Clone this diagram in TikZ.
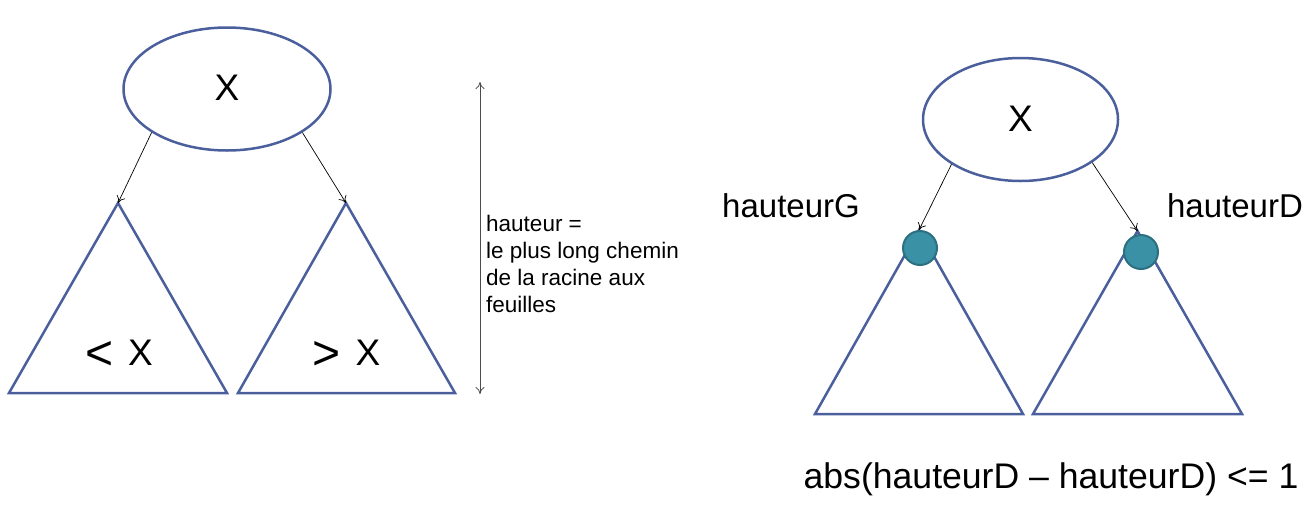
\documentclass[tikz,border=0pt]{standalone}
\usepackage{fontspec}
\setmainfont{Liberation Sans}
\usetikzlibrary{shapes.geometric,arrows.meta}
\definecolor{shapeblue}{HTML}{4A5F9C}
\definecolor{tealfill}{HTML}{3A91A5}
\definecolor{tealline}{HTML}{2B6F80}
\newcommand{\bigrel}[1]{\raisebox{-4pt}{\scalebox{1.3}{#1}}}
\tikzset{
  rootnode/.style={ellipse, draw=shapeblue, line width=2.5pt, fill=white, inner sep=0pt, font=\fontsize{37}{44}\selectfont},
  trishape/.style={draw=shapeblue, line width=2.5pt, line join=miter},
  subnode/.style={circle, draw=tealline, line width=2pt, fill=tealfill, minimum size=34pt, inner sep=0pt},
  link/.style={-{To[length=7pt,width=9pt]}, line width=0.7pt, black},
  dimline/.style={{To[length=7pt,width=9pt]}-{To[length=7pt,width=9pt]}, line width=0.8pt, black!70},
  bigtext/.style={font=\fontsize{37}{44}\selectfont, inner sep=0pt},
  labeltext/.style={font=\fontsize{33}{40}\selectfont, inner sep=0pt},
  smalltext/.style={font=\fontsize{22.5}{26.7}\selectfont, align=left, inner sep=0pt}
}
\begin{document}
\begin{tikzpicture}[x=1pt,y=-1pt]
\useasboundingbox (0,0) rectangle (1313,504);
% ---------- left tree ----------
\coordinate (LA) at (118,203);
\coordinate (LB) at (9,393);
\coordinate (LC) at (227,393);
\coordinate (RA) at (346,203);
\coordinate (RB) at (238,393);
\coordinate (RC) at (455,393);
\draw[trishape] (LA) -- (LB) -- (LC) -- cycle;
\draw[trishape] (RA) -- (RB) -- (RC) -- cycle;
\node[rootnode, minimum width=207pt, minimum height=123pt] (root1) at (227,89) {\raisebox{2pt}{X}};
\node[bigtext, anchor=base] (lt) at (119,365) {\bigrel{<}\hspace{15pt}X};
\node[bigtext, anchor=base] (gt) at (346.5,365) {\bigrel{>}\hspace{15pt}X};
\draw[link] (root1.210) -- (LA);
\draw[link] (root1.330) -- (RA);
% height arrow
\coordinate (HT) at (480,82);
\coordinate (HB) at (480,394);
\draw[dimline] (HT) -- (HB);
\node[smalltext, anchor=west] (htext) at (486,264) {hauteur =\\le plus long chemin\\de la racine aux\\feuilles};
% ---------- right tree ----------
\coordinate (LA2) at (919,230);
\coordinate (LB2) at (815,414);
\coordinate (LC2) at (1023,414);
\coordinate (RA2) at (1137.5,231);
\coordinate (RB2) at (1033,414);
\coordinate (RC2) at (1242,414);
\draw[trishape] (LA2) -- (LB2) -- (LC2) -- cycle;
\draw[trishape] (RA2) -- (RB2) -- (RC2) -- cycle;
\node[subnode] (c1) at (920,248) {};
\node[subnode] (c2) at (1141,252) {};
\node[rootnode, minimum width=195pt, minimum height=123pt] (root2) at (1020.5,119.5) {\raisebox{2pt}{X}};
\draw[link] (root2.213) -- (LA2);
\draw[link] (root2.329) -- (RA2);
\node[labeltext] (hg) at (791,206) {hauteurG};
\node[labeltext] (hd) at (1235,206) {hauteurD};
\node[font=\fontsize{35.6}{42}\selectfont, inner sep=0pt] (formula) at (1051,479) {abs(hauteurD – hauteurD) <= 1};
\end{tikzpicture}
\end{document}
